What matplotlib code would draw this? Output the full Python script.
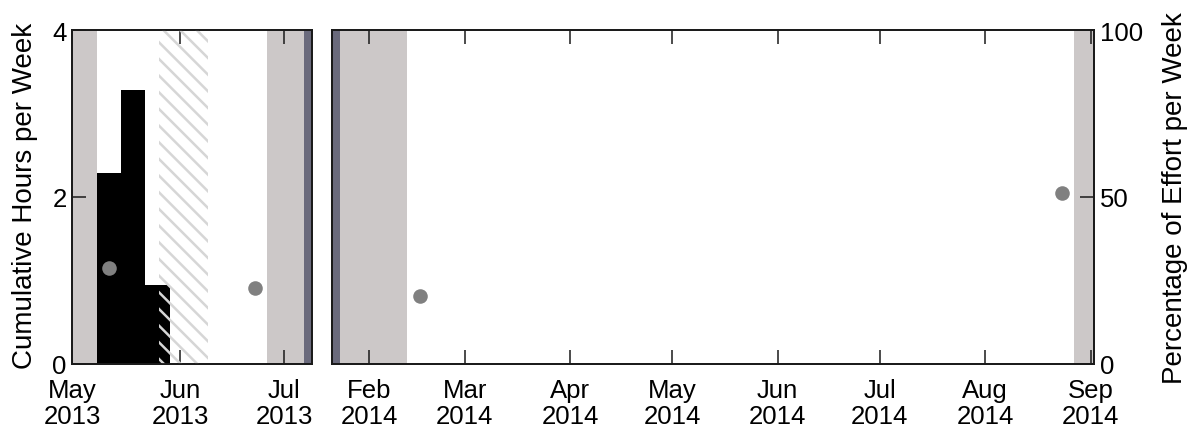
import matplotlib
matplotlib.use('Agg')
import matplotlib.pyplot as plt
import matplotlib.dates as mdates
import pandas as pd

# weekly hours (bars start on these dates, one week wide)
week_start = ['2013-05-08', '2013-05-15', '2013-05-22']
hours = [2.29, 3.28, 0.94]

# effort percentage points
effort_dates = ['2013-05-11 12:00', '2013-06-22 12:00', '2014-02-15 18:00', '2014-08-23 12:00']
effort_pct = [28.8, 22.8, 20.3, 51.2]

# shaded periods
gray_bands = [('2013-05-01', '2013-05-08'), ('2013-06-26', '2013-07-09'),
              ('2014-01-21', '2014-02-12'), ('2014-08-27', '2014-09-02')]
dark_bands = [('2013-07-06 16:00', '2013-07-09'), ('2014-01-21', '2014-01-23 08:00')]
hatch_band = ('2013-05-26', '2013-06-09')

left_xlim = ('2013-05-01', '2013-07-09')
right_xlim = ('2014-01-21', '2014-09-02')

plt.rcParams['font.family'] = ['Liberation Sans', 'DejaVu Sans']
plt.rcParams['hatch.linewidth'] = 1.8
FS = 18.5
LFS = 20
GRAY = '#ccc8c8'
DARK = '#6a6a7c'
SPINE = '#1a1a1a'

fig = plt.figure(figsize=(11.96, 4.35), dpi=100)
ax1 = fig.add_axes([0.0605, 0.161, 0.2005, 0.7677])
ax2 = fig.add_axes([0.2776, 0.161, 0.6371, 0.7677])
t1 = ax1.twinx()
t2 = ax2.twinx()

D = pd.to_datetime

for ax in (ax1, ax2):
    for a, b in gray_bands:
        ax.axvspan(D(a), D(b), color=GRAY, lw=0, zorder=0)
    for a, b in dark_bands:
        ax.axvspan(D(a), D(b), color=DARK, lw=0, zorder=1)

ws = D(week_start)
ax1.bar(ws, hours, width=7, align='edge', color='black', lw=0, zorder=2)
ax1.axvspan(D(hatch_band[0]), D(hatch_band[1]), facecolor='none',
            edgecolor='#d6d6d6', hatch='\\\\', lw=0, zorder=3)

ed = D(effort_dates)
for t in (t1, t2):
    t.scatter(ed, effort_pct, s=110, color='#808080', lw=0, zorder=5)
    t.set_ylim(0, 100)

ax1.set_xlim(D(left_xlim[0]), D(left_xlim[1]))
ax2.set_xlim(D(right_xlim[0]), D(right_xlim[1]))
t1.set_xlim(ax1.get_xlim())
t2.set_xlim(ax2.get_xlim())
ax1.set_ylim(0, 4)
ax2.set_ylim(0, 4)
ax1.set_yticks([0, 2, 4])
ax2.set_yticks([])
t1.set_yticks([])
t2.set_yticks([0, 50, 100])

for ax in (ax1, ax2):
    ax.xaxis.set_major_locator(mdates.MonthLocator())
    ax.xaxis.set_major_formatter(mdates.DateFormatter('%b\n%Y'))
    ax.tick_params(axis='x', direction='in', top=True, bottom=True, length=10,
                   width=1.1, labelsize=FS, pad=10, color=SPINE)
    for lab in ax.get_xticklabels():
        lab.set_linespacing(1.1)
ax1.tick_params(axis='y', direction='in', length=10, width=1.1, labelsize=FS, pad=4, color=SPINE)
t2.tick_params(axis='y', direction='in', length=10, width=1.1, labelsize=FS, pad=4, color=SPINE)

for ax in (ax1, ax2, t1, t2):
    for s in ax.spines.values():
        s.set_color(SPINE)
        s.set_linewidth(1.3)

ax1.set_ylabel('Cumulative Hours per Week', fontsize=LFS)
ax1.yaxis.set_label_coords(-0.145, 0.506)
t2.set_ylabel('Percentage of Effort per Week', fontsize=LFS, labelpad=14)

fig.savefig('out.png', dpi=100)
